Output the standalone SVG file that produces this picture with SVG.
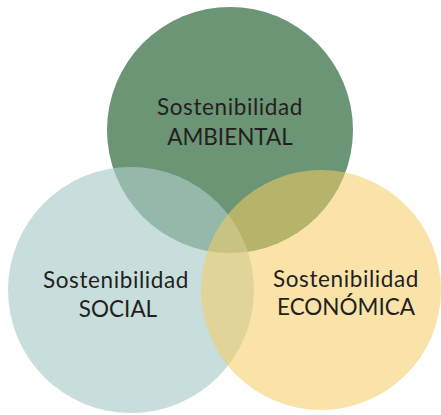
<svg xmlns="http://www.w3.org/2000/svg" width="441" height="415" viewBox="0 0 441 415">
<style>
.lbl{font-family:"Lato","Liberation Sans",sans-serif;font-size:22.5px;fill:#231f20;text-anchor:middle}
.lc{letter-spacing:0.6px}
</style>
<rect width="441" height="415" fill="#ffffff"/>
<g id="ambiental">
<circle cx="230" cy="130" r="123" fill="#6b9574"/>
</g>
<g id="social">
<circle cx="131" cy="290" r="123" fill="#aaccc9" fill-opacity="0.65"/>
</g>
<g id="economica">
<circle cx="321" cy="290" r="120" fill="#f6cc61" fill-opacity="0.545"/>
</g>
<g id="connectors"></g>
<g id="labels">
<text class="lbl lc" x="230" y="115">Sostenibilidad</text>
<text class="lbl" x="230" y="145">AMBIENTAL</text>
<text class="lbl lc" x="116" y="288">Sostenibilidad</text>
<text class="lbl" x="118" y="317">SOCIAL</text>
<text class="lbl lc" x="346" y="287">Sostenibilidad</text>
<text class="lbl" x="346" y="315">ECONÓMICA</text>
</g>
</svg>
